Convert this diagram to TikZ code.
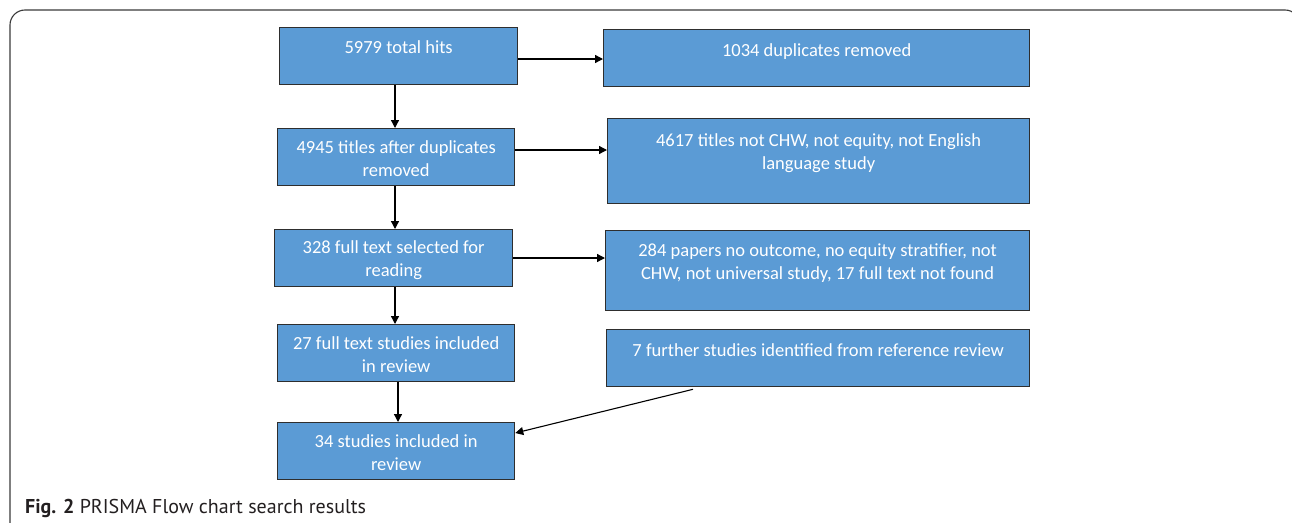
\documentclass[tikz,border=0pt]{standalone}
\usepackage{fontspec}
\setmainfont{Carlito}
\newfontfamily\capfont{PT Sans}
\usetikzlibrary{arrows.meta,calc}
\definecolor{boxblue}{HTML}{5B9BD5}
\definecolor{boxedge}{HTML}{2E2E2E}
\definecolor{framegray}{HTML}{3A3A3A}
\definecolor{captext}{HTML}{231F20}
\tikzset{
  flowbox/.style={draw=boxedge, line width=1.3pt, fill=boxblue, inner sep=0pt, anchor=north west},
  boxtext/.style={text=white, font=\fontsize{18.5}{23}\selectfont, align=center, anchor=base, inner sep=0pt},
  flowarrow/.style={draw=black, line width=1.3pt, -{Triangle[length=8pt,width=8pt]}},
}
\begin{document}
\begin{tikzpicture}[x=1pt,y=-1pt]
\useasboundingbox (0,0) rectangle (1292,522);
\clip (0,0) rectangle (1292,522);
% frame
\draw[framegray, line width=1.1pt, rounded corners=15pt] (10,540) -- (10,10) -- (1300,10) -- (1300,540);
% left column
\node[flowbox, minimum width=238pt, minimum height=57pt] (b1) at (279,27) {};
\node[flowbox, minimum width=237pt, minimum height=57pt] (b2) at (277,128) {};
\node[flowbox, minimum width=238pt, minimum height=57pt] (b3) at (274,229) {};
\node[flowbox, minimum width=237pt, minimum height=57pt] (b4) at (277,324) {};
\node[flowbox, minimum width=237pt, minimum height=57pt] (b5) at (277,422) {};
% right column
\node[flowbox, minimum width=426pt, minimum height=57pt] (r1) at (603,29) {};
\node[flowbox, minimum width=422pt, minimum height=85pt] (r2) at (607,118) {};
\node[flowbox, minimum width=424pt, minimum height=80pt] (r3) at (605,230) {};
\node[flowbox, minimum width=423pt, minimum height=57pt] (r4) at (606,329) {};
% texts (base anchor = baseline of the last line)
\node[boxtext] (t1) at ($(b1.north)+(0,26)$) {5979 total hits};
\node[boxtext] (t2) at ($(b2.north)+(0,48)$) {4945 titles after duplicates\\removed};
\node[boxtext] (t3) at ($(b3.north)+(0,47)$) {328 full text selected for\\reading};
\node[boxtext] (t4) at ($(b4.north)+(0,48)$) {27 full text studies included\\in review};
\node[boxtext] (t5) at ($(b5.north)+(0,48)$) {34 studies included in\\review};
\node[boxtext] (u1) at ($(r1.north)+(0,27)$) {1034 duplicates removed};
\node[boxtext] (u2) at ($(r2.north)+(0,51)$) {4617 titles not CHW, not equity, not English\\language study};
\node[boxtext] (u3) at ($(r3.north)+(0,49)$) {284 papers no outcome, no equity stratifier, not\\CHW, not universal study, 17 full text not found};
\node[boxtext] (u4) at ($(r4.north)+(0,27)$) {7 further studies identified from reference review};
% connectors
\draw[flowarrow] (b1.east |- 0,59) -- (r1.west |- 0,59);
\draw[flowarrow] (b2.east |- 0,150) -- (r2.west |- 0,150);
\draw[flowarrow] (b3.east |- 0,258) -- (r3.west |- 0,258);
\draw[flowarrow] (b1.south -| 395,0) -- (b2.north -| 395,0);
\draw[flowarrow] (b2.south -| 395,0) -- (b3.north -| 395,0);
\draw[flowarrow] (b3.south -| 395,0) -- (b4.north -| 395,0);
\draw[flowarrow] (b4.south -| 398,0) -- (b5.north -| 398,0);
\coordinate (d7) at ($(r4.south west)+(87,2)$);
\draw[flowarrow, line width=1.1pt] (d7) -- (b5.east |- 0,433);
% caption
\node[anchor=base west, inner sep=0pt, text=captext, font=\capfont\fontsize{20}{24}\selectfont] (cap) at (25,513) {\textbf{Fig. 2} PRISMA Flow chart search results};
\end{tikzpicture}
\end{document}
